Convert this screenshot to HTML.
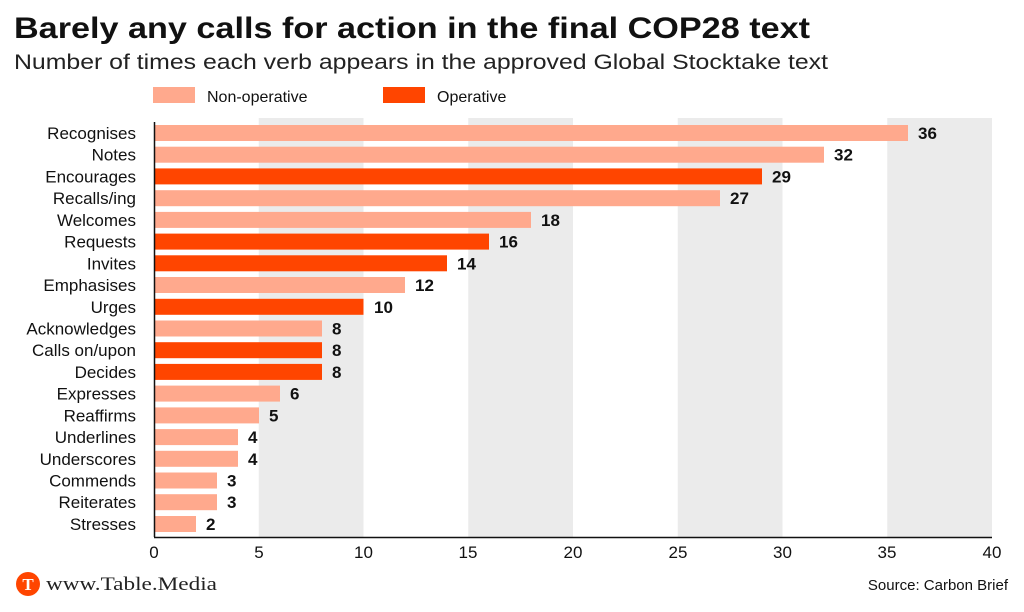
<!DOCTYPE html>
<html><head><meta charset="utf-8"><style>
body{margin:0;background:#fff;}
svg{display:block;font-family:"Liberation Sans",sans-serif;}
</style></head><body>
<svg width="1024" height="612" viewBox="0 0 1024 612">
<text x="14" y="38" font-size="30" font-weight="bold" fill="#111" textLength="796" lengthAdjust="spacingAndGlyphs">Barely any calls for action in the final COP28 text</text>
<text x="14" y="69" font-size="21" fill="#222" textLength="814" lengthAdjust="spacingAndGlyphs">Number of times each verb appears in the approved Global Stocktake text</text>
<rect x="153" y="87" width="42" height="16" fill="#ffa98d"/>
<text x="207" y="102" font-size="16" fill="#111">Non-operative</text>
<rect x="383" y="87" width="42" height="16" fill="#ff4500"/>
<text x="437" y="102" font-size="16" fill="#111">Operative</text>
<g fill="#ebebeb">
<rect x="258.75" y="118" width="104.75" height="419"/>
<rect x="468.25" y="118" width="104.75" height="419"/>
<rect x="677.75" y="118" width="104.75" height="419"/>
<rect x="887.25" y="118" width="104.75" height="419"/>
</g>
<g>
<rect x="155" y="125" width="753" height="16" fill="#ffa98d"/>
<rect x="155" y="146.7" width="669" height="16" fill="#ffa98d"/>
<rect x="155" y="168.4" width="607" height="16" fill="#ff4500"/>
<rect x="155" y="190.2" width="565" height="16" fill="#ffa98d"/>
<rect x="155" y="211.9" width="376" height="16" fill="#ffa98d"/>
<rect x="155" y="233.6" width="334" height="16" fill="#ff4500"/>
<rect x="155" y="255.3" width="292" height="16" fill="#ff4500"/>
<rect x="155" y="277" width="250" height="16" fill="#ffa98d"/>
<rect x="155" y="298.8" width="208.5" height="16" fill="#ff4500"/>
<rect x="155" y="320.5" width="167" height="16" fill="#ffa98d"/>
<rect x="155" y="342.2" width="167" height="16" fill="#ff4500"/>
<rect x="155" y="363.9" width="167" height="16" fill="#ff4500"/>
<rect x="155" y="385.6" width="125" height="16" fill="#ffa98d"/>
<rect x="155" y="407.4" width="104" height="16" fill="#ffa98d"/>
<rect x="155" y="429.1" width="83" height="16" fill="#ffa98d"/>
<rect x="155" y="450.8" width="83" height="16" fill="#ffa98d"/>
<rect x="155" y="472.5" width="62" height="16" fill="#ffa98d"/>
<rect x="155" y="494.2" width="62" height="16" fill="#ffa98d"/>
<rect x="155" y="516" width="41" height="16" fill="#ffa98d"/>
</g>
<g font-size="17" fill="#111" text-anchor="end">
<text x="136" y="139">Recognises</text>
<text x="136" y="160.7">Notes</text>
<text x="136" y="182.4">Encourages</text>
<text x="136" y="204.2">Recalls/ing</text>
<text x="136" y="225.9">Welcomes</text>
<text x="136" y="247.6">Requests</text>
<text x="136" y="269.3">Invites</text>
<text x="136" y="291">Emphasises</text>
<text x="136" y="312.8">Urges</text>
<text x="136" y="334.5">Acknowledges</text>
<text x="136" y="356.2">Calls on/upon</text>
<text x="136" y="377.9">Decides</text>
<text x="136" y="399.6">Expresses</text>
<text x="136" y="421.4">Reaffirms</text>
<text x="136" y="443.1">Underlines</text>
<text x="136" y="464.8">Underscores</text>
<text x="136" y="486.5">Commends</text>
<text x="136" y="508.2">Reiterates</text>
<text x="136" y="530">Stresses</text>
</g>
<g font-size="17" font-weight="bold" fill="#111">
<text x="918" y="139">36</text>
<text x="834" y="160.7">32</text>
<text x="772" y="182.4">29</text>
<text x="730" y="204.2">27</text>
<text x="541" y="225.9">18</text>
<text x="499" y="247.6">16</text>
<text x="457" y="269.3">14</text>
<text x="415" y="291">12</text>
<text x="374" y="312.8">10</text>
<text x="332" y="334.5">8</text>
<text x="332" y="356.2">8</text>
<text x="332" y="377.9">8</text>
<text x="290" y="399.6">6</text>
<text x="269" y="421.4">5</text>
<text x="248" y="443.1">4</text>
<text x="248" y="464.8">4</text>
<text x="227" y="486.5">3</text>
<text x="227" y="508.2">3</text>
<text x="206" y="530">2</text>
</g>
<line x1="154.5" y1="122" x2="154.5" y2="537" stroke="#111" stroke-width="1.5"/>
<line x1="154" y1="537.5" x2="992" y2="537.5" stroke="#111" stroke-width="1.5"/>
<g font-size="17" fill="#111" text-anchor="middle">
<text x="154" y="558">0</text><text x="259" y="558">5</text><text x="363.5" y="558">10</text><text x="468" y="558">15</text><text x="573" y="558">20</text><text x="678" y="558">25</text><text x="782.5" y="558">30</text><text x="887" y="558">35</text><text x="992" y="558">40</text>
</g>
<circle cx="28" cy="584" r="12" fill="#ff4500"/>
<text x="28" y="590" font-size="17" font-weight="bold" fill="#fff" text-anchor="middle" font-family="Liberation Serif, serif">T</text>
<text x="46" y="590" font-size="19" fill="#222" font-family="Liberation Serif, serif" textLength="171" lengthAdjust="spacingAndGlyphs">www.Table.Media</text>
<text x="1008" y="590" font-size="15" fill="#111" text-anchor="end">Source: Carbon Brief</text>
</svg>
</body></html>
